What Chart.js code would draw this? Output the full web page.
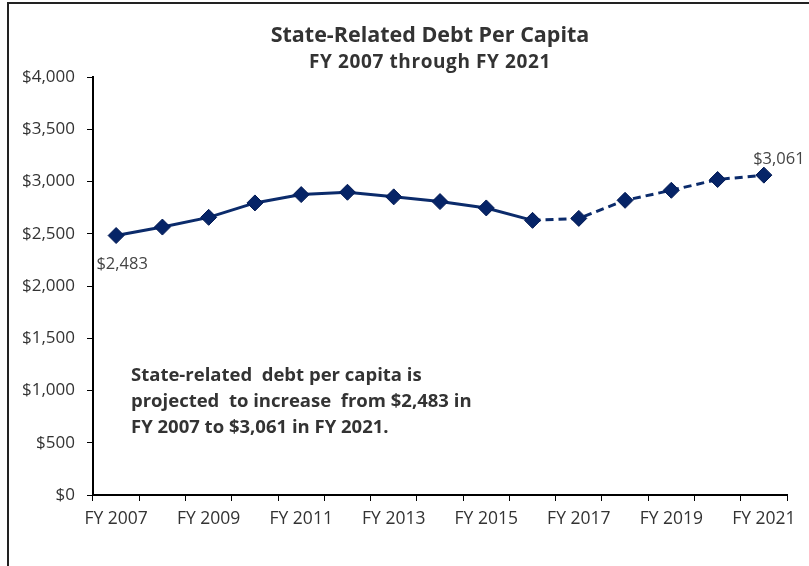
<!DOCTYPE html>
<html lang="en">
  <head>
    <meta charset="UTF-8" />
    <title>State-Related Debt Per Capita</title>
    <style>
      html, body { margin: 0; padding: 0; background: #fff; }
      #wrap { width: 809px; height: 566px; }
    </style>
  </head>
  <body>
    <div id="wrap"><canvas id="debtChart"></canvas></div>
    <script src="https://cdn.jsdelivr.net/npm/chart.js"></script>
    <script>
      // fiscal years on the x axis
      const years = [
        'FY 2007', 'FY 2008', 'FY 2009', 'FY 2010', 'FY 2011',
        'FY 2012', 'FY 2013', 'FY 2014', 'FY 2015', 'FY 2016',
        'FY 2017', 'FY 2018', 'FY 2019', 'FY 2020', 'FY 2021',
      ];
      // debt per capita, dollars (2016 onward is projected -> dashed)
      const debtPerCapita = [
        2483, 2564, 2657, 2795, 2875,
        2897, 2853, 2808, 2747, 2628,
        2647, 2820, 2916, 3019, 3061,
      ];
      const projectedFrom = 9; // index of FY 2016
      const yTicks = [0, 500, 1000, 1500, 2000, 2500, 3000, 3500, 4000];
      const titleText = 'State-Related Debt Per Capita';
      const subtitleText = 'FY 2007 through FY 2021';
      const noteLines = [
        'State-related  debt per capita is',
        'projected  to increase  from $2,483 in',
        'FY 2007 to $3,061 in FY 2021.',
      ];

      const navy = '#0b2b6b';
      const textColor = '#333333';
      const fontFamily = '"Open Sans", "Liberation Sans", sans-serif';

      const money = (v) => '$' + v.toLocaleString('en-US');

      // outer frame + titles
      const framePlugin = {
        id: 'frame',
        beforeDraw(chart) {
          const ctx = chart.ctx;
          ctx.save();
          ctx.fillStyle = '#fff';
          ctx.fillRect(0, 0, chart.width, chart.height);
          ctx.strokeStyle = '#222';
          ctx.lineWidth = 2;
          ctx.beginPath();
          ctx.moveTo(8, chart.height + 2);
          ctx.lineTo(8, 3);
          ctx.lineTo(chart.width + 2, 3);
          ctx.stroke();

          ctx.fillStyle = textColor;
          ctx.textAlign = 'center';
          ctx.textBaseline = 'alphabetic';
          ctx.font = 'bold 21.5px ' + fontFamily;
          ctx.fillText(titleText, 430, 42);
          ctx.font = 'bold 19px ' + fontFamily;
          ctx.letterSpacing = '0.6px';
          ctx.fillText(subtitleText, 430, 68);
          ctx.restore();
        },
      };

      // first and last value labels plus the note text
      const labelPlugin = {
        id: 'labels',
        afterDatasetsDraw(chart) {
          const ctx = chart.ctx;
          const meta = chart.getDatasetMeta(0);
          const first = meta.data[0];
          const last = meta.data[meta.data.length - 1];
          ctx.save();
          ctx.fillStyle = '#444';
          ctx.font = '16.5px ' + fontFamily;
          ctx.textAlign = 'center';
          ctx.textBaseline = 'middle';
          ctx.fillText(money(debtPerCapita[0]), first.x + 6, first.y + 29);
          ctx.fillText(money(debtPerCapita[debtPerCapita.length - 1]), last.x + 15, last.y - 16);

          ctx.fillStyle = textColor;
          ctx.font = 'bold 18.5px ' + fontFamily;
          ctx.textAlign = 'left';
          ctx.textBaseline = 'alphabetic';
          noteLines.forEach((line, i) => {
            ctx.fillText(line, 131, 381 + i * 26);
          });
          ctx.restore();
        },
      };

      new Chart(document.getElementById('debtChart'), {
        type: 'line',
        data: {
          labels: years,
          datasets: [
            {
              data: debtPerCapita,
              borderColor: navy,
              borderWidth: 3,
              pointStyle: 'rectRot',
              pointRadius: 8,
              pointBackgroundColor: '#062467',
              pointBorderColor: '#021a55',
              pointBorderWidth: 1,
              tension: 0,
              segment: {
                borderDash: (c) => (c.p0DataIndex >= projectedFrom ? [8, 5] : undefined),
              },
            },
          ],
        },
        options: {
          responsive: true,
          maintainAspectRatio: false,
          animation: false,
          layout: { padding: { left: 10, right: 22, top: 77, bottom: 0 } },
          plugins: {
            legend: { display: false },
            tooltip: { enabled: false },
          },
          scales: {
            x: {
              offset: true,
              grid: {
                display: true,
                drawOnChartArea: false,
                drawTicks: true,
                tickLength: 6,
                color: '#000',
                offset: true,
              },
              border: { color: '#000', width: 2 },
              ticks: {
                autoSkip: false,
                maxRotation: 0,
                color: textColor,
                font: { family: fontFamily, size: 17.5 },
                padding: 8,
                callback: (v, i) => (i % 2 === 0 ? years[i] : ''),
              },
              afterFit: (scale) => { scale.height = 71; },
            },
            y: {
              min: 0,
              max: 4000,
              afterBuildTicks: (scale) => {
                scale.ticks = yTicks.map((v) => ({ value: v }));
              },
              grid: {
                display: true,
                drawOnChartArea: false,
                tickLength: 6,
                color: '#000',
              },
              border: { color: '#000', width: 2 },
              ticks: {
                color: textColor,
                font: { family: fontFamily, size: 17 },
                padding: 12,
                callback: (v) => money(v),
              },
              afterFit: (scale) => { scale.width = 83; },
            },
          },
        },
        plugins: [framePlugin, labelPlugin],
      });
    </script>
  </body>
</html>
